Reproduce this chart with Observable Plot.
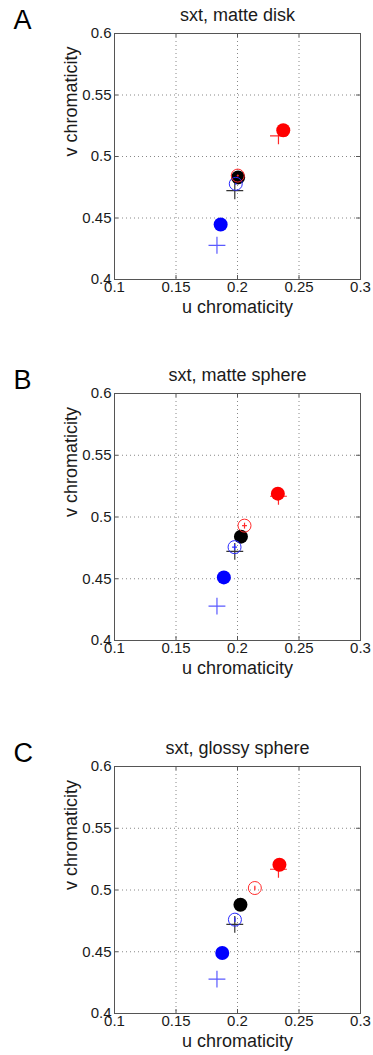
<!DOCTYPE html>
<html><head><meta charset="utf-8">
<script src="https://cdn.jsdelivr.net/npm/d3@7"></script>
<script src="https://cdn.jsdelivr.net/npm/@observablehq/plot@0.6"></script>
<style>body{margin:0;background:#fff;} #chart svg{display:block;}</style>
</head><body><div id="chart"></div>
<script>
// ---- data ----
const panelLetters = ["A", "B", "C"];
const titles = ["sxt, matte disk", "sxt, matte sphere", "sxt, glossy sphere"];
const xLabel = "u chromaticity";
const yLabel = "v chromaticity";
const uTicks = [0.1, 0.15, 0.2, 0.25, 0.3];
const uTickLabels = ["0.1", "0.15", "0.2", "0.25", "0.3"];
const vTicks = [0.4, 0.45, 0.5, 0.55, 0.6];
const vTickLabels = ["0.4", "0.45", "0.5", "0.55", "0.6"];

// illuminant markers (plus), same in all panels: blue, neutral, red
const illumColors = ["#5a5aff", "#333333", "#ff2a2a"];
const illumU = [0.1833, 0.1978, 0.2333];
const illumV = [0.4278, 0.4722, 0.5168];

// filled circles: blue, black, red
const filledColors = ["#0000ff", "#000000", "#ff0000"];
const filledU_A = [0.1863, 0.2005, 0.2372];
const filledV_A = [0.4447, 0.4830, 0.5214];
const filledU_B = [0.1889, 0.2028, 0.2328];
const filledV_B = [0.4511, 0.4841, 0.5189];
const filledU_C = [0.1876, 0.2024, 0.2341];
const filledV_C = [0.4490, 0.4881, 0.5205];

// hollow circles with error bars: blue, red
const hollowColors = ["#2a2aff", "#ff2a2a"];
const hollowU_A = [0.1986, 0.2002];
const hollowV_A = [0.4778, 0.4845];
const hollowEU_A = [0.0005, 0.0008];
const hollowEV_A = [0.0005, 0.0008];
const hollowU_B = [0.1976, 0.2057];
const hollowV_B = [0.4756, 0.4930];
const hollowEU_B = [0.0020, 0.0020];
const hollowEV_B = [0.0024, 0.0024];
const hollowU_C = [0.1979, 0.2141];
const hollowV_C = [0.4760, 0.5016];
const hollowEU_C = [0.0003, 0.0003];
const hollowEV_C = [0.0020, 0.0019];

// ---- layout ----
const FONT = "'Liberation Sans', Arial, Helvetica, sans-serif";
const heights = [360, 373, 322];
const marginTop = 33;
const marginBottoms = [81, 93, 42];
const marginLeft = 114, marginRight = 13, W = 373;

const filledU = [filledU_A, filledU_B, filledU_C];
const filledV = [filledV_A, filledV_B, filledV_C];
const hollowU = [hollowU_A, hollowU_B, hollowU_C];
const hollowV = [hollowV_A, hollowV_B, hollowV_C];
const hollowEU = [hollowEU_A, hollowEU_B, hollowEU_C];
const hollowEV = [hollowEV_A, hollowEV_B, hollowEV_C];

const illum = illumU.map((u, j) => ({u, v: illumV[j], c: illumColors[j]}));

function panel(i) {
  const H = heights[i], MB = marginBottoms[i];
  const innerH = H - marginTop - MB;
  const innerW = W - marginLeft - marginRight;
  const filled = filledU[i].map((u, j) => ({u, v: filledV[i][j], c: filledColors[j]}));
  const hollow = hollowU[i].map((u, j) => ({u, v: hollowV[i][j], eu: hollowEU[i][j], ev: hollowEV[i][j], c: hollowColors[j]}));
  const frameColor = "#555";
  return Plot.plot({
    width: W, height: H,
    marginLeft, marginRight, marginTop, marginBottom: MB,
    x: {domain: [0.1, 0.3]},
    y: {domain: [0.4, 0.6]},
    color: {type: "identity"},
    style: {fontFamily: FONT, fontSize: "15px", color: "#1a1a1a", background: "white", overflow: "visible"},
    marks: [
      Plot.gridX(uTicks, {stroke: "#888", strokeOpacity: 1, strokeDasharray: "1,3"}),
      Plot.gridY(vTicks, {stroke: "#888", strokeOpacity: 1, strokeDasharray: "1,3"}),
      Plot.dot(illum, {x: "u", y: "v", symbol: "plus", r: 5.5, stroke: "c", strokeWidth: 1.2}),
      Plot.dot(filled, {x: "u", y: "v", fill: "c", r: 7}),
      Plot.dot(hollow, {x: "u", y: "v", stroke: "c", fill: "none", r: 6.5, strokeWidth: 1}),
      Plot.link(hollow, {x1: d => d.u - d.eu, x2: d => d.u + d.eu, y1: "v", y2: "v", stroke: "c", strokeWidth: 1.2}),
      Plot.link(hollow, {x1: "u", x2: "u", y1: d => d.v - d.ev, y2: d => d.v + d.ev, stroke: "c", strokeWidth: 1.2}),
      Plot.frame({stroke: frameColor}),
      Plot.tickX(uTicks, {x: d => d, insetTop: innerH - 4, stroke: frameColor}),
      Plot.tickX(uTicks, {x: d => d, insetBottom: innerH - 4, stroke: frameColor}),
      Plot.tickY(vTicks, {y: d => d, insetRight: innerW - 4, stroke: frameColor}),
      Plot.tickY(vTicks, {y: d => d, insetLeft: innerW - 4, stroke: frameColor}),
      Plot.axisX(uTicks, {anchor: "bottom", tickSize: 0, tickPadding: 2, label: null,
        tickFormat: d => uTickLabels[uTicks.indexOf(d)]}),
      Plot.axisY(vTicks, {anchor: "left", tickSize: 0, tickPadding: 3, label: null,
        tickFormat: d => vTickLabels[vTicks.indexOf(d)]}),
      Plot.text([titles[i]], {text: d => d, frameAnchor: "top", lineAnchor: "middle", dy: -17.8, fontSize: 18}),
      Plot.text([panelLetters[i]], {text: d => d, frameAnchor: "top-left", lineAnchor: "middle", textAnchor: "start", dx: -101, dy: -13.6, fontSize: 27, fill: "#000"}),
      Plot.text([xLabel], {text: d => d, frameAnchor: "bottom", lineAnchor: "middle", dy: 27.6, fontSize: 18}),
      Plot.text([yLabel], {text: d => d, frameAnchor: "left", lineAnchor: "middle", dx: -43, rotate: -90, fontSize: 18})
    ]
  });
}

const chart = document.getElementById("chart");
for (let i = 0; i < 3; i++) chart.appendChild(panel(i));
</script>
</body></html>
